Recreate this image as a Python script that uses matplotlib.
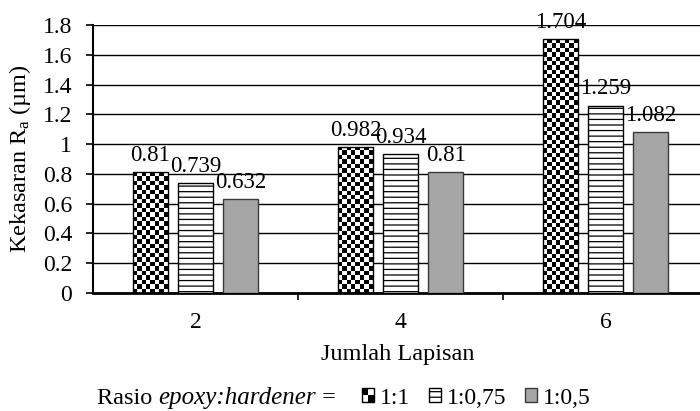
import numpy as np
import matplotlib
matplotlib.use("Agg")
import matplotlib.pyplot as plt
from matplotlib.patches import Rectangle
from matplotlib.legend_handler import HandlerBase
from matplotlib.ticker import FixedLocator, FuncFormatter

# ---- data ----
categories = ["2", "4", "6"]
series_names = ["1:1", "1:0,75", "1:0,5"]
ratio_11 = [0.81, 0.982, 1.704]
ratio_075 = [0.739, 0.934, 1.259]
ratio_05 = [0.632, 0.81, 1.082]
y_ticks = [0, 0.2, 0.4, 0.6, 0.8, 1.0, 1.2, 1.4, 1.6, 1.8]

plt.rcParams["font.family"] = ["Liberation Serif", "DejaVu Serif"]
plt.rcParams["mathtext.fontset"] = "custom"
plt.rcParams["mathtext.rm"] = "Liberation Serif"
plt.rcParams["mathtext.it"] = "Liberation Serif:italic"
plt.rcParams["hatch.linewidth"] = 0.9

W, H = 700, 411
fig = plt.figure(figsize=(W / 100, H / 100), dpi=100)
ax = fig.add_axes([93 / W, 1 - 293 / H, 615 / W, 268 / H])

x = np.arange(len(categories))
pitch = 0.22
width = 0.17

ax.set_xlim(-0.5, 2.5)
ax.set_ylim(0, 1.8)

b1 = ax.bar(x - pitch, ratio_11, width, facecolor="none", edgecolor="black",
            linewidth=1.0, zorder=3)
b2 = ax.bar(x, ratio_075, width, facecolor="white", edgecolor="black",
            hatch="---", linewidth=1.0, zorder=3)
b3 = ax.bar(x + pitch, ratio_05, width, facecolor="#a6a6a6", edgecolor="#3a3a3a",
            linewidth=1.0, zorder=3)

# checkerboard fill for the 1:1 bars
cell_px = 4.4
for bar in b1:
    x0, y0 = bar.get_x(), bar.get_y()
    w, h = bar.get_width(), bar.get_height()
    (px0, py0), (px1, py1) = ax.transData.transform([(x0, y0), (x0 + w, y0 + h)])
    nc = max(1, int(round((px1 - px0) / cell_px)))
    nr = max(1, int(round((py1 - py0) / cell_px)))
    arr = np.add.outer(np.arange(nr), np.arange(nc)) % 2
    im = ax.imshow(arr, cmap="gray", vmin=0, vmax=1, extent=(x0, x0 + w, y0, y0 + h),
                   origin="lower", interpolation="nearest", aspect="auto", zorder=2.5)
    im.set_clip_path(bar)

ax.set_xlim(-0.5, 2.5)
ax.set_ylim(0, 1.8)

# data labels
for bars, vals in [(b1, ratio_11), (b2, ratio_075), (b3, ratio_05)]:
    for bar, v in zip(bars, vals):
        ax.annotate(f"{v:g}", (bar.get_x() + bar.get_width() / 2, v),
                    xytext=(0, 8), textcoords="offset points",
                    ha="center", va="baseline", fontsize=16.5, zorder=5)

# axes styling
ax.yaxis.set_major_locator(FixedLocator(y_ticks))
ax.yaxis.set_major_formatter(FuncFormatter(lambda v, p: f"{v:g}"))
ax.grid(axis="y", color="black", linewidth=1.0, zorder=0)
ax.set_axisbelow(True)
ax.set_xticks(x)
ax.set_xticklabels(categories)
ax.set_xticks([0.5, 1.5], minor=True)
ax.tick_params(axis="x", which="major", length=0, pad=14, labelsize=17)
ax.tick_params(axis="x", which="minor", length=5, width=1.2, direction="out")
ax.tick_params(axis="y", which="major", length=5, width=1.2, direction="out",
               pad=10, labelsize=17)
for s in ["top", "right"]:
    ax.spines[s].set_visible(False)
ax.spines["left"].set_linewidth(1.5)
ax.spines["bottom"].set_linewidth(2.0)

ax.set_ylabel(r"Kekasaran R$_{\mathrm{a}}$ (µm)", fontsize=17.5, labelpad=7)
ax.set_xlabel("Jumlah Lapisan", fontsize=17.5)
ax.xaxis.set_label_coords((398 - 93) / 615, (293 - 344) / 268)


class CheckerHandler(HandlerBase):
    def create_artists(self, legend, orig_handle, xdescent, ydescent, width, height,
                       fontsize, trans):
        arts = []
        n = 2
        cw, ch = width / n, height / n
        for i in range(n):
            for j in range(n):
                fc = "black" if (i + j) % 2 == 1 else "white"
                arts.append(Rectangle((-xdescent + i * cw, -ydescent + j * ch), cw, ch,
                                      facecolor=fc, edgecolor="none", transform=trans))
        arts.append(Rectangle((-xdescent, -ydescent), width, height, facecolor="none",
                              edgecolor="black", linewidth=1.0, transform=trans))
        return arts


h1 = Rectangle((0, 0), 1, 1)
h2 = Rectangle((0, 0), 1, 1, facecolor="white", edgecolor="black", hatch="---", linewidth=1.0)
h3 = Rectangle((0, 0), 1, 1, facecolor="#a6a6a6", edgecolor="#3a3a3a", linewidth=1.0)

ly = 1 - 398 / H
fig.legend([h1, h2, h3], series_names, handler_map={h1: CheckerHandler()},
           loc="center left", bbox_to_anchor=(362 / W, ly), ncol=3, frameon=False,
           fontsize=17, handlelength=0.5, handleheight=0.5, handletextpad=0.25,
           columnspacing=0.8, borderpad=0, borderaxespad=0)

t1 = fig.text(97 / W, ly, "Rasio ", fontsize=17.5, ha="left", va="center")
a2 = ax.annotate("epoxy:hardener", xy=(1, 0), xycoords=t1, ha="left", va="bottom",
                 fontsize=18, style="italic", annotation_clip=False)
a3 = ax.annotate(" =", xy=(1, 0), xycoords=a2, ha="left", va="bottom",
                 fontsize=17.5, annotation_clip=False)

fig.savefig("out.png", dpi=100)
